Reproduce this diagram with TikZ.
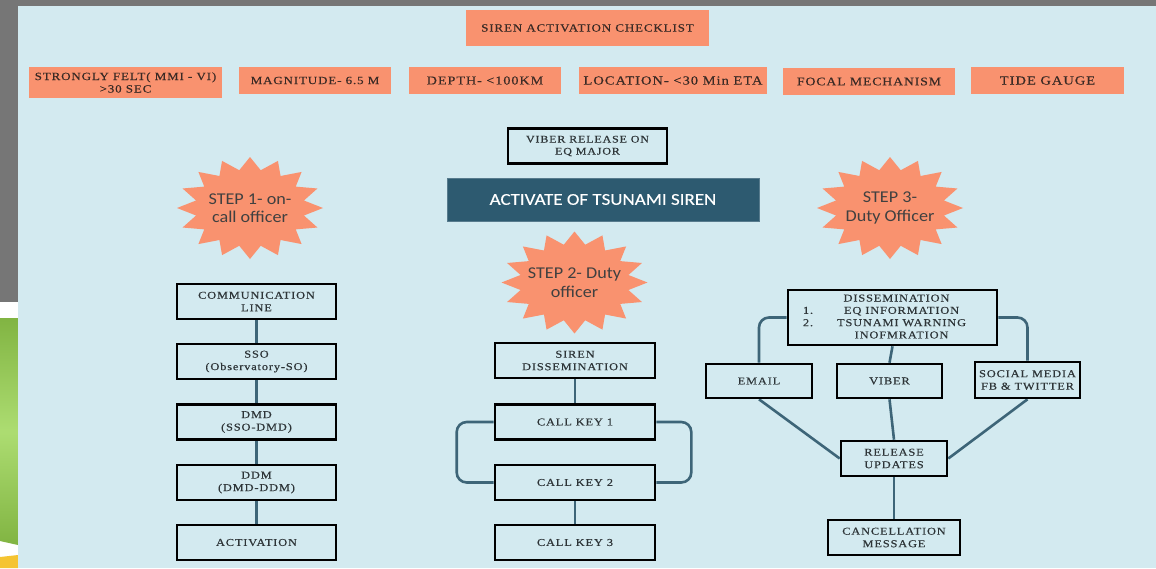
\documentclass[tikz,border=0pt]{standalone}
\usepackage{fontspec}
\newfontfamily\boxfont{Liberation Serif}[FakeStretch=1.18,LetterSpace=8,FakeBold=0.4]
\newfontfamily\starfont{Carlito}[FakeStretch=1.1]
\newfontfamily\bannerfont{Carlito}[FakeStretch=1.15,FakeBold=0.3]
\usetikzlibrary{backgrounds}
\definecolor{panel}{HTML}{D3EAF0}
\definecolor{outergray}{HTML}{767676}
\definecolor{salmon}{HTML}{F9926F}
\definecolor{teal}{HTML}{2D5A70}
\definecolor{conncol}{HTML}{3D6578}
\definecolor{boxtext}{HTML}{2E3538}
\definecolor{saltext}{HTML}{3A2A25}
\definecolor{startext}{HTML}{404040}
\definecolor{leafgreen}{HTML}{98D44E}
\definecolor{sunyellow}{HTML}{F5C431}
\tikzset{
  chk/.style={fill=salmon, draw=none, inner sep=0pt, align=center, text=saltext,
    font=\boxfont\fontsize{11}{12.5}\selectfont},
  flowbox/.style={draw=black, line width=2.6pt, fill=panel, inner sep=0pt, align=center,
    text=boxtext, font=\boxfont\fontsize{10.5}{12.5}\selectfont},
  conn/.style={draw=conncol, line width=2.6pt},
  startxt/.style={align=center, text=startext, font=\starfont\fontsize{16.5}{18.5}\selectfont},
}
\newcommand\starburst[2]{%
  \fill[salmon, shift={(#1,#2)}] (90:73 and 51)
    \foreach \i in {0,...,15} { -- ({\i*22.5+90}:73 and 51) -- ({\i*22.5+101.25}:55 and 38.5) } -- cycle;
}
\begin{document}
\begin{tikzpicture}[x=1pt,y=-1pt]
\useasboundingbox (0,0) rectangle (1156,568);
\begin{scope}[on background layer]
\fill[outergray] (0,0) rectangle (1156,568);
\fill[white] (0,302) rectangle (18,568);
\shade[top color=leafgreen!85!black, bottom color=leafgreen!85!black, middle color=leafgreen!80!white] (0,318) -- (18,318) -- (18,545) -- (0,541) -- cycle;
\fill[sunyellow] (0,557) -- (18,555) -- (18,568) -- (0,568) -- cycle;
\fill[panel] (18,6) rectangle (1156,568);
\end{scope}

% checklist
\node[chk, minimum width=243, minimum height=36] (title) at (587.5,28) {SIREN ACTIVATION CHECKLIST};
\node[chk, minimum width=193, minimum height=31] (felt) at (125.5,82.5) {STRONGLY FELT( MMI - VI)\\>30 SEC};
\node[chk, minimum width=152, minimum height=27] (mag) at (315,80.5) {MAGNITUDE- 6.5 M};
\node[chk, minimum width=152, minimum height=27, font=\boxfont\fontsize{12}{12}\selectfont] (depth) at (485,80.5) {DEPTH- <100KM};
\node[chk, minimum width=188, minimum height=27, font=\boxfont\fontsize{12.3}{12}\selectfont] (loc) at (673,80.5) {LOCATION- <30 Min ETA};
\node[chk, minimum width=172, minimum height=27, font=\boxfont\fontsize{11.6}{12}\selectfont] (focal) at (869,81.5) {FOCAL MECHANISM};
\node[chk, minimum width=153, minimum height=27, font=\boxfont\fontsize{12.3}{12}\selectfont] (tide) at (1047.5,80.5) {TIDE GAUGE};

\node[flowbox, minimum width=159, minimum height=35, line width=2.2pt, font=\boxfont\fontsize{10.2}{12}\selectfont] (viberrel) at (587.5,146) {VIBER RELEASE ON\\EQ MAJOR};
\node[fill=teal, draw=teal!80!white, line width=0.8pt, minimum width=312, minimum height=43, inner sep=0pt, text=white, font=\bannerfont\fontsize{16.5}{18}\selectfont] (activate) at (603,199.5) {ACTIVATE OF TSUNAMI SIREN};

% stars
\starburst{250}{208}
\starburst{574.5}{282.5}
\starburst{890}{208}
\node[startxt] (step1) at (250,208) {STEP 1- on-\\call officer};
\node[startxt] (step2) at (574.5,282.5) {STEP 2- Duty\\officer};
\node[startxt] (step3) at (890,208) {STEP 3-\\Duty Officer};

% step 1 column
\node[flowbox, minimum width=159, minimum height=35] (comm) at (256.5,301.5) {COMMUNICATION\\LINE};
\node[flowbox, minimum width=159, minimum height=35] (sso) at (256.5,361.5) {SSO\\(Observatory-SO)};
\node[flowbox, minimum width=159, minimum height=35] (dmd) at (256.5,422) {DMD\\(SSO-DMD)};
\node[flowbox, minimum width=159, minimum height=35] (ddm) at (256.5,482.5) {DDM\\(DMD-DDM)};
\node[flowbox, minimum width=159, minimum height=35] (act) at (256.5,542.5) {ACTIVATION};

% step 2 column
\node[flowbox, minimum width=160, minimum height=35] (sd) at (575,360.5) {SIREN\\DISSEMINATION};
\node[flowbox, minimum width=160, minimum height=35] (ck1) at (575,422) {CALL KEY 1};
\node[flowbox, minimum width=160, minimum height=35] (ck2) at (575,482.5) {CALL KEY 2};
\node[flowbox, minimum width=160, minimum height=35] (ck3) at (575,542.5) {CALL KEY 3};

% step 3 column
\node[flowbox, minimum width=209, minimum height=55, font=\boxfont\fontsize{10.5}{12.3}\selectfont] (diss) at (892.5,317.5)
  {\begin{tabular}{@{}l@{\hspace{24pt}}c@{\hspace{16pt}}}
   \multicolumn{2}{c}{\hspace{8pt}DISSEMINATION}\\
   1. & EQ INFORMATION\\
   2. & TSUNAMI WARNING\\
      & INOFMRATION
   \end{tabular}};
\node[flowbox, minimum width=106, minimum height=34] (email) at (759,381) {EMAIL};
\node[flowbox, minimum width=105, minimum height=34] (viber) at (889.5,381) {VIBER};
\node[flowbox, minimum width=105, minimum height=36] (social) at (1027.5,380) {SOCIAL MEDIA\\FB \& TWITTER};
\node[flowbox, minimum width=106, minimum height=35] (release) at (894,458.5) {RELEASE\\UPDATES};
\node[flowbox, minimum width=132, minimum height=35] (cancel) at (894,537.5) {CANCELLATION\\MESSAGE};

\begin{scope}[on background layer]
\draw[conn] (comm) -- (sso);
\draw[conn] (sso) -- (dmd);
\draw[conn] (dmd) -- (ddm);
\draw[conn] (ddm) -- (act);
\draw[conn] (sd) -- (ck1);
\draw[conn] (ck2) -- (ck3);
\draw[conn, rounded corners=10] (ck1.west) -- ++(-37,0) |- (ck2.west);
\draw[conn, rounded corners=10] (ck1.east) -- ++(35,0) |- (ck2.east);
\draw[conn, rounded corners=10] (diss.west) -| (email.north);
\draw[conn, rounded corners=10] (diss.east) -| (social.north);
\draw[conn] (diss.south) -- (viber.north);
\draw[conn] (email.south) -- (release.west);
\draw[conn] (viber.south) -- (release.north);
\draw[conn] (social.south) -- (release.east);
\draw[conn] (release) -- (cancel);
\end{scope}
\end{tikzpicture}
\end{document}
